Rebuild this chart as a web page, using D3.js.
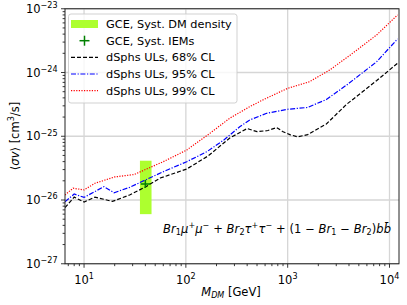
<!DOCTYPE html>
<html><head><meta charset="utf-8">
<script src="https://cdn.jsdelivr.net/npm/d3@7"></script>
<style>body{margin:0;background:#fff}svg{display:block}</style>
</head><body>
<svg id="c" width="407" height="305"></svg>
<script>
// ---- data ----
const mass68 = [6.5, 8, 10, 12.8, 19, 28, 40, 56, 102, 165, 270, 400, 500, 640, 780, 890, 1050, 1250, 1570, 2400, 3800, 7500, 12000];
const sigma68 = [7.6e-27, 1.11e-26, 9.3e-27, 1.11e-26, 9.5e-27, 1.2e-26, 1.6e-26, 2.21e-26, 3.06e-26, 4.9e-26, 9.4e-26, 1.32e-25, 1.18e-25, 1.23e-25, 1.37e-25, 1.19e-25, 1.06e-25, 9.8e-26, 1.06e-25, 1.56e-25, 3.18e-25, 7.48e-25, 1.40e-24];
const mass95 = [6.5, 8, 10, 15.7, 19.7, 28, 40, 60, 102, 161, 236, 338, 424, 622, 1000, 1570, 2400, 3800, 7500, 12000];
const sigma95 = [9.4e-27, 1.24e-26, 1.1e-26, 1.62e-26, 1.3e-26, 1.58e-26, 2.06e-26, 2.78e-26, 3.99e-26, 5.73e-26, 8.73e-26, 1.41e-25, 1.8e-25, 2.29e-25, 2.65e-25, 2.83e-25, 3.77e-25, 6.37e-25, 1.48e-24, 3.36e-24];
const mass99 = [6.5, 7.8, 10, 12.8, 20, 31, 60, 102, 172, 270, 424, 570, 1000, 1640, 2580, 4340, 7460, 12000];
const sigma99 = [1.2e-26, 1.53e-26, 1.44e-26, 1.83e-26, 2.3e-26, 2.51e-26, 3.99e-26, 6.08e-26, 1.11e-25, 1.92e-25, 2.91e-25, 3.71e-25, 5.65e-25, 7.18e-25, 1.09e-24, 2.0e-24, 3.87e-24, 7.98e-24];
const gceBandMass = [35.4, 46];
const gceBandSigma = [6.0e-27, 4.13e-26];
const gcePointMass = [40];
const gcePointSigma = [1.78e-26];
const gceMassErr = [[36, 44.5]];
const gceSigmaErr = [[1.54e-26, 2.06e-26]];
const xTickExps = [1, 2, 3, 4];
const yTickExps = [-27, -26, -25, -24, -23];
const legendLabels = ["GCE, Syst. DM density", "GCE, Syst. IEMs", "dSphs ULs, 68% CL", "dSphs ULs, 95% CL", "dSphs ULs, 99% CL"];

// ---- layout ----
const FONT = "DejaVu Sans";
const L = 65, R = 399, T = 8.75, B = 263.75;
const svg = d3.select("#c").attr("font-family", FONT);
const x = d3.scaleLog().domain([6.5, 12400]).range([L, R]);
const y = d3.scaleLog().domain([1e-27, 1e-23]).range([B, T]);
const green = "#adff2f";

svg.append("defs").append("clipPath").attr("id", "clip")
  .append("rect").attr("x", L).attr("y", T).attr("width", R - L).attr("height", B - T);

// grid
const g = svg.append("g");
xTickExps.forEach(e => {
  g.append("line").attr("x1", x(10 ** e)).attr("x2", x(10 ** e)).attr("y1", T).attr("y2", B)
    .attr("stroke", "#d6d6d6").attr("stroke-width", 1.3);
});
yTickExps.forEach(e => {
  g.append("line").attr("x1", L).attr("x2", R).attr("y1", y(10 ** e)).attr("y2", y(10 ** e))
    .attr("stroke", "#d6d6d6").attr("stroke-width", 1.3);
});

const plot = svg.append("g").attr("clip-path", "url(#clip)");
// band
plot.append("rect")
  .attr("x", x(gceBandMass[0])).attr("width", x(gceBandMass[1]) - x(gceBandMass[0]))
  .attr("y", y(gceBandSigma[1])).attr("height", y(gceBandSigma[0]) - y(gceBandSigma[1]))
  .attr("fill", green);

const line = d3.line().x(d => x(d[0])).y(d => y(d[1]));
const curves = [
  {m: mass68, s: sigma68, color: "#000", dash: "4,2"},
  {m: mass95, s: sigma95, color: "#0000ff", dash: "5,1.6,1.2,1.6"},
  {m: mass99, s: sigma99, color: "#ff0000", dash: "1.2,1.4"}
];
curves.forEach(c => {
  plot.append("path").datum(c.m.map((m, i) => [m, c.s[i]]))
    .attr("d", line).attr("fill", "none").attr("stroke", c.color)
    .attr("stroke-width", 1.2).attr("stroke-dasharray", c.dash);
});

// GCE point with error bars
gcePointMass.forEach((m, i) => {
  const cx = x(m), cy = y(gcePointSigma[i]);
  plot.append("line").attr("x1", x(gceMassErr[i][0])).attr("x2", x(gceMassErr[i][1]))
    .attr("y1", cy).attr("y2", cy).attr("stroke", "#008000").attr("stroke-width", 1.5);
  plot.append("line").attr("x1", cx).attr("x2", cx)
    .attr("y1", y(gceSigmaErr[i][0])).attr("y2", y(gceSigmaErr[i][1])).attr("stroke", "#008000").attr("stroke-width", 1.5);
});

// spines
svg.append("rect").attr("x", L).attr("y", T).attr("width", R - L).attr("height", B - T)
  .attr("fill", "none").attr("stroke", "#222").attr("stroke-width", 1);

// ticks
const ax = svg.append("g").attr("stroke", "#222").attr("stroke-width", 0.9);
function minorVals(scale) {
  const [a, b] = scale.domain();
  const out = [];
  for (let e = Math.floor(Math.log10(a)); e <= Math.ceil(Math.log10(b)); e++) {
    for (let k = 1; k <= 9; k++) {
      const v = k * Math.pow(10, e);
      if (v >= a * 0.999 && v <= b * 1.001) out.push({v, major: k === 1});
    }
  }
  return out;
}
minorVals(x).forEach(t => {
  const px = x(t.v);
  ax.append("line").attr("x1", px).attr("x2", px).attr("y1", B).attr("y2", B + (t.major ? 4 : 2.4));
});
minorVals(y).forEach(t => {
  const py = y(t.v);
  ax.append("line").attr("x1", L).attr("x2", L - (t.major ? 4 : 2.4)).attr("y1", py).attr("y2", py);
});

// math text helper
function mtext(sel, parts, size) {
  parts.forEach(p => {
    const ts = sel.append("tspan").text(p.t);
    if (p.it) ts.attr("font-style", "italic");
    let dy = 0;
    if (p.sup) { ts.attr("font-size", size * 0.7); dy = -size * 0.42; }
    if (p.sub) { ts.attr("font-size", size * 0.7); dy = size * 0.2; }
    if (dy) { ts.attr("dy", dy); }
    if (p.sup || p.sub) p._reset = -dy;
  });
  const nodes = sel.selectAll("tspan").nodes();
  parts.forEach((p, i) => {
    if (p._reset && nodes[i + 1]) {
      const cur = +(nodes[i + 1].getAttribute("dy") || 0);
      nodes[i + 1].setAttribute("dy", cur + p._reset);
    }
  });
}

const FS = 11.5;
xTickExps.forEach(e => {
  const t = svg.append("text").attr("x", x(10 ** e)).attr("y", 283.5).attr("text-anchor", "middle")
    .attr("font-size", FS).attr("fill", "#000");
  mtext(t, [{t: "10"}, {t: String(e), sup: true}, {t: ""}], FS);
});
yTickExps.forEach(e => {
  const t = svg.append("text").attr("x", 57.5).attr("y", y(10 ** e) + 4.2).attr("text-anchor", "end")
    .attr("font-size", FS).attr("fill", "#000");
  mtext(t, [{t: "10"}, {t: "\u2212" + Math.abs(e), sup: true}, {t: ""}], FS);
});

// axis labels
const xl = svg.append("text").attr("x", 231).attr("y", 295.5).attr("text-anchor", "middle").attr("font-size", FS);
mtext(xl, [{t: "M", it: true}, {t: "DM", it: true, sub: true}, {t: " [GeV]"}], FS);
const yl = svg.append("text").attr("transform", "translate(18.5,136) rotate(-90)").attr("text-anchor", "middle").attr("font-size", FS);
mtext(yl, [{t: "\u27e8"}, {t: "\u03c3v", it: true}, {t: "\u27e9 [cm"}, {t: "3", sup: true}, {t: "/s]"}], FS);

// annotation
const an = svg.append("text").attr("x", 163).attr("y", 233).attr("font-size", FS)
  .attr("textLength", 228).attr("lengthAdjust", "spacing");
mtext(an, [
  {t: "Br", it: true}, {t: "1", sub: true}, {t: "\u03bc", it: true}, {t: "+", sup: true}, {t: "\u03bc", it: true}, {t: "\u2212", sup: true},
  {t: " + "}, {t: "Br", it: true}, {t: "2", sub: true}, {t: "\u03c4", it: true}, {t: "+", sup: true}, {t: "\u03c4", it: true}, {t: "\u2212", sup: true},
  {t: " + (1 \u2212 "}, {t: "Br", it: true}, {t: "1", sub: true}, {t: " \u2212 "}, {t: "Br", it: true}, {t: "2", sub: true}, {t: ")"},
  {t: "bb\u0304", it: true}
], FS);

// legend
const LFS = 11.3;
const lg = svg.append("g");
lg.append("rect").attr("x", 68.5).attr("y", 14).attr("width", 168.5).attr("height", 89).attr("rx", 2.5)
  .attr("fill", "#fff").attr("fill-opacity", 0.8).attr("stroke", "#cccccc").attr("stroke-width", 0.9);
const ly = [24, 40.7, 57.3, 74, 90.6];
const hx0 = 71, hx1 = 98;
lg.append("rect").attr("x", hx0).attr("y", ly[0] - 4).attr("width", hx1 - hx0).attr("height", 8).attr("fill", green);
const cxm = (hx0 + hx1) / 2;
lg.append("line").attr("x1", cxm - 5).attr("x2", cxm + 5).attr("y1", ly[1]).attr("y2", ly[1]).attr("stroke", "#008000").attr("stroke-width", 1.5);
lg.append("line").attr("x1", cxm).attr("x2", cxm).attr("y1", ly[1] - 5).attr("y2", ly[1] + 5).attr("stroke", "#008000").attr("stroke-width", 1.5);
curves.forEach((c, i) => {
  lg.append("line").attr("x1", hx0).attr("x2", hx1).attr("y1", ly[i + 2]).attr("y2", ly[i + 2])
    .attr("stroke", c.color).attr("stroke-width", 1.2).attr("stroke-dasharray", c.dash);
});
legendLabels.forEach((s, i) => {
  lg.append("text").attr("x", 106).attr("y", ly[i] + 4).attr("font-size", LFS).attr("fill", "#000").text(s);
});
</script>
</body></html>
